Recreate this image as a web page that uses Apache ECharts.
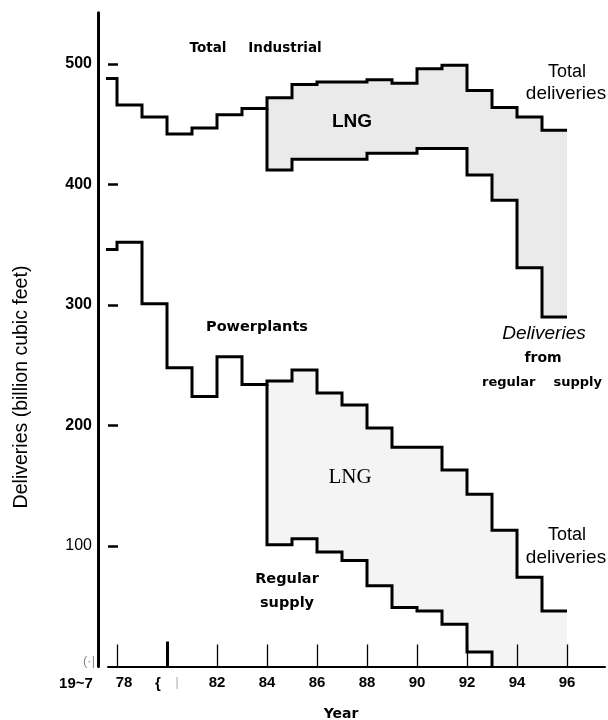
<!DOCTYPE html>
<html><head><meta charset="utf-8">
<script src="https://cdn.jsdelivr.net/npm/echarts@6/dist/echarts.min.js"></script>
<style>html,body{margin:0;padding:0;background:#fff}#c{width:608px;height:720px}</style>
</head><body><div id="c"></div>
<script>
// ---- data (billion cubic feet), one value per year segment [year, year+1] ----
const firstYear = 77;           // first segment start (clipped by the axis)
const lastYear = 96;            // last segment end
const lngStartYear = 84;        // LNG begins
// Total industrial
const industrialTotal   = [488, 466, 456, 442, 447, 458, 463, 472, 483, 485, 485, 487, 484, 496, 499, 478, 464, 456, 445];
const industrialRegular = [412, 421, 421, 421, 426, 426, 430, 430, 408, 387, 331, 290];
// Powerplants
const powerTotal   = [346, 352, 301, 248, 224, 257, 234, 237, 246, 227, 217, 198, 182, 182, 163, 143, 113, 74, 46];
const powerRegular = [101, 106, 95, 88, 67, 49, 46, 35, 12];   // ends (drops to 0) after last value
// axes
const yTickValues = [100, 200, 300, 400, 500];
const xTickValues = [78, 80, 82, 84, 86, 88, 90, 92, 94, 96];
const xBoldTick = [80];
const xLabelValues = [78, 82, 84, 86, 88, 90, 92, 94, 96];

// ---- helpers ----
function steps(start, values) {
  const pts = [];
  values.forEach((v, i) => { pts.push([start + i, v], [start + i + 1, v]); });
  return pts;
}
const k = lngStartYear - firstYear;

const indTotalPts = steps(firstYear, industrialTotal);
const indRegPts = [[lngStartYear, industrialTotal[k - 1]]].concat(steps(lngStartYear, industrialRegular));
const indTotalLNG = steps(lngStartYear, industrialTotal.slice(k));
const indRegLNG = steps(lngStartYear, industrialRegular);

const powTotalPts = steps(firstYear, powerTotal);
const powRegEnd = lngStartYear + powerRegular.length;
const powRegPts = [[lngStartYear, powerTotal[k - 1]]].concat(steps(lngStartYear, powerRegular)).concat([[powRegEnd, 0]]);
const powTotalLNG = steps(lngStartYear, powerTotal.slice(k));
const powRegLNG = steps(lngStartYear, powerRegular);

function lineS(data) {
  return { type: 'line', data, showSymbol: false, symbol: 'none', silent: true, z: 5,
    lineStyle: { color: '#000', width: 3, join: 'miter' } };
}
// filled region down to the axis (grey for total, white for regular supply -> leaves the LNG band)
function fillS(data, color) {
  return { type: 'line', data, showSymbol: false, symbol: 'none', silent: true, z: -1,
    lineStyle: { width: 0, opacity: 0 }, areaStyle: { color, opacity: 1, origin: 'start' } };
}

const chart = echarts.init(document.getElementById('c'), null, { renderer: 'canvas' });
const bold = 'bold 14px "DejaVu Sans"';
function txt(x, y, text, font, extra, fill) {
  return Object.assign({ type: 'text', x, y, silent: true,
    style: { text, font, fill: fill || '#000', align: 'center', verticalAlign: 'middle', textAlign: 'center', textVerticalAlign: 'middle' } }, extra || {});
}
const xRange = { min: 77.64, max: 97.52 };
chart.setOption({
  animation: false,
  backgroundColor: '#fff',
  grid: { left: 108, right: 3, top: 12.7, bottom: 53.5, containLabel: false },
  xAxis: [
    {
      type: 'value', min: xRange.min, max: xRange.max,
      axisLine: { show: true, lineStyle: { color: '#000', width: 2 } },
      axisTick: { show: true, inside: true, length: 22, customValues: xTickValues, lineStyle: { color: '#000', width: 1.3 } },
      axisLabel: {
        customValues: xLabelValues, margin: 9,
        formatter: v => v === 78 ? '{s|78}' : '{n|' + v + '}',
        rich: {
          n: { fontFamily: 'Liberation Sans', fontWeight: 'bold', fontSize: 15, color: '#000' },
          s: { fontFamily: 'Liberation Sans', fontWeight: 'bold', fontSize: 15, color: '#000', padding: [0, 0, 0, 14] }
        }
      },
      splitLine: { show: false }
    },
    {
      type: 'value', min: xRange.min, max: xRange.max, position: 'bottom',
      axisLine: { show: false },
      axisTick: { show: true, inside: true, length: 25, customValues: xBoldTick, lineStyle: { color: '#000', width: 3 } },
      axisLabel: { show: false }, splitLine: { show: false }
    }
  ],
  yAxis: [
    {
      type: 'value', min: 0, max: 542.6, position: 'left',
      axisLine: { show: false }, splitLine: { show: false },
      axisTick: { show: true, inside: true, length: 10, customValues: yTickValues, lineStyle: { color: '#000', width: 2.5 } },
      axisLabel: {
        customValues: yTickValues, margin: 16,
        formatter: v => v === 100 ? '{r|100}' : '{b|' + v + '}',
        rich: {
          b: { fontFamily: 'Liberation Sans', fontWeight: 'bold', fontSize: 16, color: '#000' },
          r: { fontFamily: 'Liberation Sans', fontSize: 16, color: '#000' }
        }
      }
    },
    {
      type: 'value', min: 0, max: 542.6, position: 'left', offset: 10,
      axisLine: { show: true, lineStyle: { color: '#000', width: 3 } },
      axisTick: { show: false }, axisLabel: { show: false }, splitLine: { show: false }
    }
  ],
  series: [
    fillS(indTotalLNG, '#eaeaea'),
    fillS(indRegLNG, '#ffffff'),
    fillS(powTotalLNG, '#f4f4f4'),
    fillS(powRegLNG, '#ffffff'),
    lineS(indTotalPts),
    lineS(indRegPts),
    lineS(powTotalPts),
    lineS(powRegPts)
  ],
  graphic: [
    txt(22, 387, 'Deliveries (billion cubic feet)', '19.5px "Liberation Sans"', { rotation: Math.PI / 2 }),
    txt(208, 48, 'Total', 'bold 13.5px "DejaVu Sans"'),
    txt(285, 48, 'Industrial', 'bold 13.5px "DejaVu Sans"'),
    txt(352, 122, 'LNG', 'bold 19px "Liberation Sans"'),
    txt(567, 72, 'Total', '18px "Liberation Sans"'),
    txt(566, 94, 'deliveries', '19px "Liberation Sans"'),
    txt(544, 334, 'Deliveries', 'italic 19px "Liberation Sans"'),
    txt(543, 358, 'from', bold),
    txt(542, 383, 'regular    supply', 'bold 13px "DejaVu Sans"'),
    txt(257, 327, 'Powerplants', 'bold 14.5px "DejaVu Sans"'),
    txt(350, 477, 'LNG', '21px "Liberation Serif"'),
    txt(567, 535, 'Total', '18px "Liberation Sans"'),
    txt(566, 558, 'deliveries', '19px "Liberation Sans"'),
    txt(287, 579, 'Regular', 'bold 14.5px "DejaVu Sans"'),
    txt(287, 603, 'supply', 'bold 14.5px "DejaVu Sans"'),
    txt(76, 684, '19~7', 'bold 15px "Liberation Sans"'),
    txt(158, 684, '{', 'bold 15px "Liberation Sans"'),
    txt(177, 683, '|', '12px "Liberation Sans"', null, '#aaa'),
    txt(89, 661, '(·|', '13px "Liberation Sans"', null, '#888'),
    txt(341, 714, 'Year', 'bold 14px "DejaVu Sans"')
  ]
});
</script></body></html>
